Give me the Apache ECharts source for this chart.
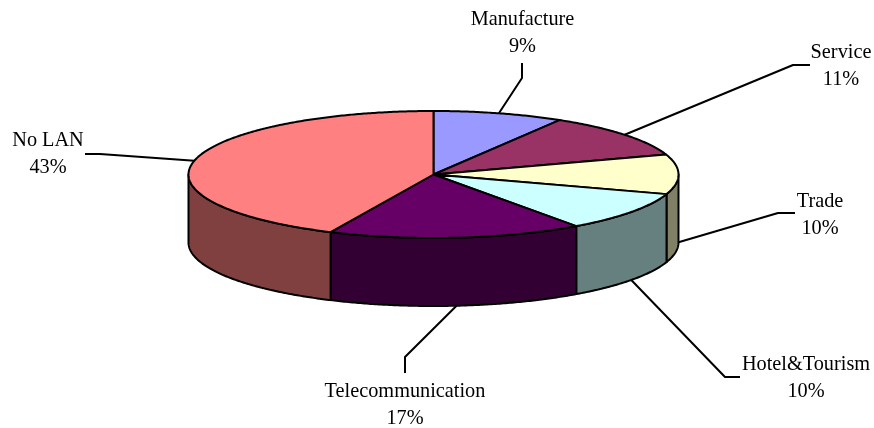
<!DOCTYPE html>
<html>
<head>
<meta charset="utf-8">
<style>html,body{margin:0;padding:0;background:#fff}#c{width:874px;height:428px}</style>
<script src="https://cdn.jsdelivr.net/npm/echarts@6/dist/echarts.min.js"></script>
</head>
<body>
<div id="c"></div>
<script>
// Data
var categories = ['Manufacture', 'Service', 'Trade', 'Hotel&Tourism', 'Telecommunication', 'No LAN'];
var shares = [8.6, 11.3, 10.1, 10.1, 16.8, 43.1];

// Styles
var topColors = ['#9999FF', '#993366', '#FFFFCC', '#CCFFFF', '#660066', '#FF8080'];
var sideColors = ['#4D4D80', '#4D1A33', '#808066', '#668080', '#330033', '#804040'];

// Layout of the tilted pie
var CX = 433.5, CY = 174.5, RX = 245, RY = 63.5, DEPTH = 68;
var FONT = '"Liberation Serif","Times New Roman",serif';
var LINE_W = 2;
// leader line elbow and end, label centre for each slice
var elbows = [[522, 78], [793, 65], [778, 213], [725, 377], [405, 357], [100, 154]];
var ends = [[522, 63], [810, 65], [795, 213], [740, 377], [405, 373], [85, 154]];
var labelCentres = [[522.5, 33], [841, 66], [820, 215], [806, 378], [405, 405], [48, 154]];

var total = shares.reduce(function (a, b) { return a + b; }, 0);
var bounds = [0];
shares.forEach(function (v, i) { bounds.push(bounds[i] + v / total * 360); });

function pt(deg, dy) {
  var r = deg * Math.PI / 180;
  return [CX + RX * Math.sin(r), CY - RY * Math.cos(r) + (dy || 0)];
}
function arc(a0, a1, dy) {
  var n = Math.max(2, Math.ceil((a1 - a0) * 2)), out = [];
  for (var i = 0; i <= n; i++) out.push(pt(a0 + (a1 - a0) * i / n, dy));
  return out;
}
var lineStyle = { stroke: '#000', lineWidth: LINE_W, lineJoin: 'round', lineCap: 'round' };

function renderSide(params) {
  var i = params.dataIndex;
  var a0 = Math.max(bounds[i], 90), a1 = Math.min(bounds[i + 1], 270);
  if (a1 <= a0) return { type: 'group', children: [] };
  var pts = arc(a0, a1, 0).concat(arc(a0, a1, DEPTH).reverse());
  return {
    type: 'polygon',
    shape: { points: pts },
    style: Object.assign({ fill: sideColors[i] }, lineStyle)
  };
}
function renderTop(params) {
  var i = params.dataIndex;
  var pts = [[CX, CY]].concat(arc(bounds[i], bounds[i + 1], 0));
  return {
    type: 'polygon',
    shape: { points: pts },
    style: Object.assign({ fill: topColors[i] }, lineStyle)
  };
}
function renderLabel(params, api) {
  var i = params.dataIndex;
  var mid = (bounds[i] + bounds[i + 1]) / 2;
  var front = mid > 89 && mid < 270;
  var start = pt(mid, front ? DEPTH : 0);
  var c = labelCentres[i];
  return {
    type: 'group',
    children: [
      {
        type: 'polyline',
        shape: { points: [start, elbows[i], ends[i]] },
        style: { stroke: '#000', lineWidth: LINE_W, fill: null, lineJoin: 'round' }
      },
      {
        type: 'text',
        x: c[0], y: c[1],
        style: {
          text: categories[i] + '\n' + Math.round(api.value(0)) + '%',
          font: '20.3px ' + FONT,
          fill: '#000',
          align: 'center',
          verticalAlign: 'middle',
          lineHeight: 27
        }
      }
    ]
  };
}

var chart = echarts.init(document.getElementById('c'), null, { renderer: 'canvas' });
chart.setOption({
  animation: false,
  backgroundColor: '#fff',
  series: [
    { type: 'custom', coordinateSystem: 'none', silent: true, z: 1, data: shares, renderItem: renderSide },
    { type: 'custom', coordinateSystem: 'none', silent: true, z: 2, data: shares, renderItem: renderTop },
    { type: 'custom', coordinateSystem: 'none', silent: true, z: 3, data: shares, renderItem: renderLabel }
  ]
});
</script>
</body>
</html>
